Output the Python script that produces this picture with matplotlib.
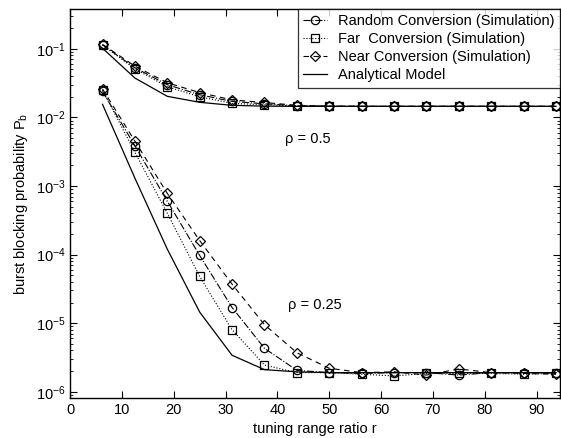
import numpy as np
import matplotlib
matplotlib.use('Agg')
import matplotlib.pyplot as plt

plt.rcParams['font.family'] = ['Liberation Sans', 'DejaVu Sans']

# tuning range ratio r
r = [6.25, 12.5, 18.75, 25, 31.25, 37.5, 43.75, 50, 56.25, 62.5, 68.75, 75, 81.25, 87.5, 93.75]

# rho = 0.5
random_05 = [0.114, 0.053, 0.030, 0.0214, 0.0171, 0.0158, 0.0148, 0.0146, 0.0145, 0.0145,
             0.0145, 0.0145, 0.0145, 0.0145, 0.0145]
far_05 = [0.114, 0.051, 0.028, 0.020, 0.016, 0.0153, 0.0146, 0.0145, 0.0145, 0.0145,
          0.0145, 0.0145, 0.0145, 0.0145, 0.0145]
near_05 = [0.116, 0.056, 0.032, 0.023, 0.018, 0.0165, 0.0150, 0.0146, 0.0145, 0.0145,
           0.0145, 0.0146, 0.0145, 0.0145, 0.0145]
model_05 = [0.102, 0.0375, 0.0203, 0.0166, 0.0150, 0.0146, 0.0145, 0.0145, 0.0145, 0.0145,
            0.0145, 0.0145, 0.0145, 0.0145, 0.0145]

# rho = 0.25
random_025 = [0.024, 3.85e-3, 6.0e-4, 9.7e-5, 1.69e-5, 4.3e-6, 2.05e-6, 1.9e-6, 1.85e-6, 1.9e-6,
              1.9e-6, 1.75e-6, 1.9e-6, 1.9e-6, 1.85e-6]
far_025 = [0.025, 3.1e-3, 4.0e-4, 4.8e-5, 8.0e-6, 2.45e-6, 1.9e-6, 1.9e-6, 1.8e-6, 1.7e-6,
           1.85e-6, 1.85e-6, 1.85e-6, 1.8e-6, 1.85e-6]
near_025 = [0.026, 4.5e-3, 7.8e-4, 1.6e-4, 3.7e-5, 9.5e-6, 3.7e-6, 2.2e-6, 1.9e-6, 1.95e-6,
            1.75e-6, 2.15e-6, 1.9e-6, 1.85e-6, 1.8e-6]
model_025 = [0.0155, 1.3e-3, 1.2e-4, 1.45e-5, 3.4e-6, 2.1e-6, 1.95e-6, 1.9e-6, 1.9e-6, 1.9e-6,
             1.9e-6, 1.9e-6, 1.9e-6, 1.9e-6, 1.9e-6]

fig = plt.figure(figsize=(5.61, 4.38), dpi=100)
ax = fig.add_axes([0.125, 0.0913, 0.873, 0.888])

mk = dict(markersize=6, markerfacecolor='none', markeredgecolor='black',
          markeredgewidth=0.9, color='black', linewidth=0.8)

for ys_r, ys_f, ys_n, ys_m, first in [(random_05, far_05, near_05, model_05, True),
                                      (random_025, far_025, near_025, model_025, False)]:
    ax.plot(r, ys_r, linestyle='-.', marker='o',
            label='Random Conversion (Simulation)' if first else None, **mk)
    ax.plot(r, ys_f, linestyle=':', marker='s',
            label='Far  Conversion (Simulation)' if first else None,
            **{**mk, 'markersize': 5.5})
    ax.plot(r, ys_n, linestyle='--', marker='D', dashes=(5, 4),
            label='Near Conversion (Simulation)' if first else None,
            **{**mk, 'markersize': 5.5})
    ax.plot(r, ys_m, linestyle='-', color='black', linewidth=0.9,
            label='Analytical Model' if first else None)

ax.set_yscale('log')
ax.set_xlim(0, 94.5)
ax.set_ylim(8.1e-7, 0.38)
ax.set_xticks(np.arange(0, 91, 10))
ax.tick_params(which='both', direction='in', top=True, right=True, labelsize=10.5)
ax.tick_params(which='major', length=5)
ax.tick_params(which='minor', length=2.5)

ax.set_xlabel('tuning range ratio r', fontsize=10.5, labelpad=4)
ax.set_ylabel('burst blocking probability P$_\\mathregular{b}$', fontsize=10.5, labelpad=4)

ax.text(41.5, 4.2e-3, '\u03c1 = 0.5', fontsize=10.5)
ax.text(42, 1.6e-5, '\u03c1 = 0.25', fontsize=10.5)

leg = ax.legend(loc='upper right', fontsize=10.5, frameon=True, fancybox=False,
                edgecolor='black', borderaxespad=0.0, handlelength=1.6,
                borderpad=0.35, labelspacing=0.28, handletextpad=0.8)
leg.get_frame().set_linewidth(0.9)

for s in ax.spines.values():
    s.set_linewidth(1.0)

fig.savefig('out.png', dpi=100)
